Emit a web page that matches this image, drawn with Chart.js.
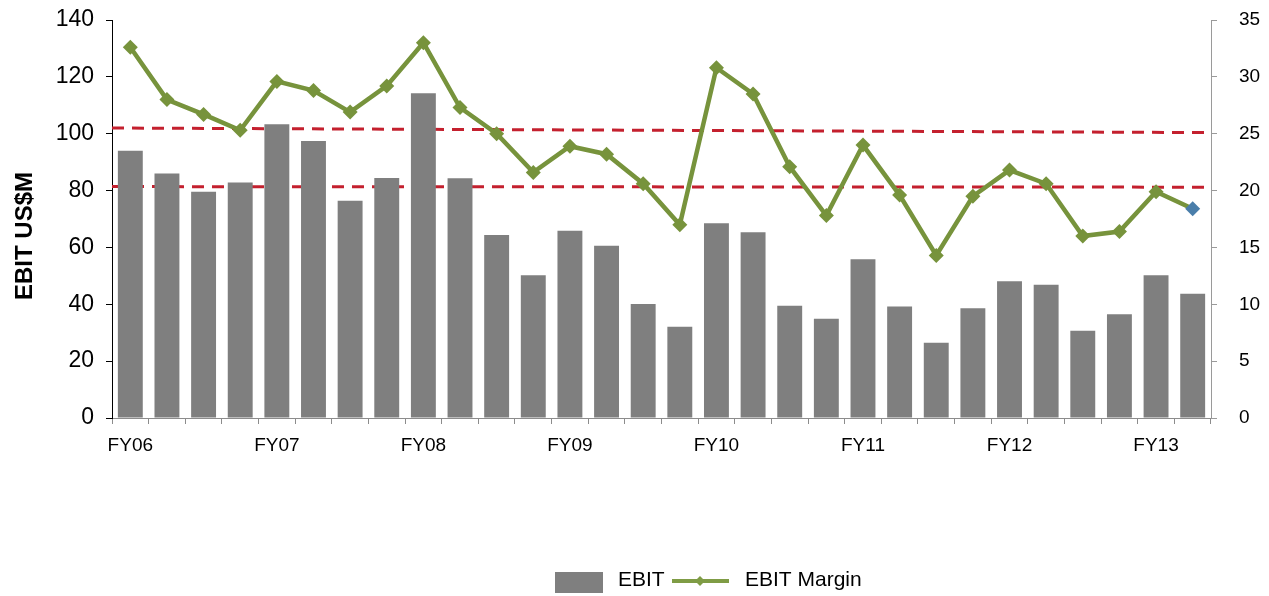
<!DOCTYPE html>
<html>
<head>
<meta charset="utf-8">
<title>EBIT and EBIT Margin</title>
<script src="https://cdn.jsdelivr.net/npm/chart.js@4.4.1/dist/chart.umd.min.js"></script>
<style>
  html, body { margin: 0; padding: 0; background: #ffffff; }
  #wrap { position: relative; width: 1269px; height: 596px; }
</style>
</head>
<body>
<div id="wrap"><canvas id="chart" width="1269" height="596"></canvas></div>
<script>
// Quarterly periods; the fiscal year is labelled on its first quarter
const quarters = [
  'FY06', '', '', '', 'FY07', '', '', '', 'FY08', '', '', '', 'FY09', '', '', '',
  'FY10', '', '', '', 'FY11', '', '', '', 'FY12', '', '', '', 'FY13', ''
];

// EBIT, US$ millions
const ebit = [
  94.0, 86.0, 79.6, 82.8, 103.3, 97.4, 76.4, 84.4, 114.2, 84.3,
  64.4, 50.2, 65.9, 60.6, 40.1, 32.1, 68.5, 65.3, 39.5, 34.9,
  55.8, 39.2, 26.5, 38.6, 48.1, 46.9, 30.7, 36.5, 50.2, 43.7
];

// EBIT margin, percent
const ebitMargin = [
  32.6, 28.0, 26.7, 25.3, 29.6, 28.8, 26.9, 29.2, 33.0, 27.3,
  25.0, 21.6, 23.9, 23.2, 20.6, 17.0, 30.8, 28.5, 22.1, 17.8,
  24.0, 19.6, 14.3, 19.5, 21.8, 20.6, 16.0, 16.4, 19.9, 18.4
];

// Margin reference band (percent), value at the left and right edge of the plot
const bandUpper = [25.5, 25.1];
const bandLower = [20.35, 20.3];

// Axis ticks
const ebitTicks = { min: 0, max: 140, step: 20 };
const marginTicks = { min: 0, max: 35, step: 5 };

const FONT = '"Liberation Sans", Arial, sans-serif';
const BAR_COLOR = '#7f7f7f';
const LINE_COLOR = '#77933c';
const LAST_POINT_COLOR = '#4a7eaa';
const BAND_COLOR = '#c4202e';

// Dashed reference lines, drawn behind the bars
const bandLines = {
  id: 'bandLines',
  beforeDatasetsDraw(chart) {
    const { ctx, chartArea } = chart;
    const y = chart.scales.yMargin;
    ctx.save();
    ctx.strokeStyle = BAND_COLOR;
    ctx.lineWidth = 3;
    ctx.setLineDash([12, 8]);
    [bandUpper, bandLower].forEach(([a, b]) => {
      ctx.beginPath();
      ctx.moveTo(chartArea.left, y.getPixelForValue(a));
      ctx.lineTo(chartArea.right, y.getPixelForValue(b));
      ctx.stroke();
    });
    ctx.restore();
  }
};

// Rotated title of the EBIT axis
const axisTitle = {
  id: 'axisTitle',
  afterDraw(chart) {
    const { ctx } = chart;
    ctx.save();
    ctx.translate(25, 236);
    ctx.rotate(-Math.PI / 2);
    ctx.font = 'bold 24px ' + FONT;
    ctx.fillStyle = '#000';
    ctx.textAlign = 'center';
    ctx.textBaseline = 'middle';
    ctx.fillText('EBIT US$M', 0, 0);
    ctx.restore();
  }
};

// Legend row under the plot
const bottomLegend = {
  id: 'bottomLegend',
  afterDraw(chart) {
    const { ctx } = chart;
    const [barSet, lineSet] = chart.data.datasets;
    ctx.save();
    ctx.font = '21px ' + FONT;
    ctx.textBaseline = 'middle';
    ctx.fillStyle = barSet.backgroundColor;
    ctx.fillRect(555, 572, 48, 21);
    ctx.fillStyle = '#000';
    ctx.fillText(barSet.label, 618, 580);

    ctx.strokeStyle = '#7f9c45';
    ctx.lineWidth = 4;
    ctx.beginPath();
    ctx.moveTo(672, 581);
    ctx.lineTo(729, 581);
    ctx.stroke();
    ctx.fillStyle = '#7f9c45';
    ctx.beginPath();
    ctx.moveTo(700, 576);
    ctx.lineTo(705, 581);
    ctx.lineTo(700, 586);
    ctx.lineTo(695, 581);
    ctx.closePath();
    ctx.fill();

    ctx.fillStyle = '#000';
    ctx.fillText(lineSet.label, 745, 580);
    ctx.restore();
  }
};

// Vertical axes keep a fixed width and do not push the plot down for label overflow
function fixVerticalAxis(width) {
  return (scale) => {
    scale.width = width;
    scale.paddingTop = 0;
    scale.paddingBottom = 0;
  };
}

new Chart(document.getElementById('chart'), {
  data: {
    labels: quarters,
    datasets: [
      {
        type: 'bar',
        label: 'EBIT',
        data: ebit,
        yAxisID: 'yEbit',
        backgroundColor: BAR_COLOR,
        borderWidth: 0,
        barPercentage: 0.68,
        categoryPercentage: 1.0,
        order: 2
      },
      {
        type: 'line',
        label: 'EBIT Margin',
        data: ebitMargin,
        yAxisID: 'yMargin',
        borderColor: LINE_COLOR,
        borderWidth: 4.5,
        tension: 0,
        pointStyle: 'rectRot',
        pointRadius: 7.5,
        pointBorderWidth: 0,
        pointBackgroundColor: (c) => c.dataIndex === ebitMargin.length - 1 ? LAST_POINT_COLOR : LINE_COLOR,
        order: 1
      }
    ]
  },
  options: {
    responsive: false,
    animation: false,
    layout: { padding: { top: 20, bottom: 0, left: 0, right: 0 } },
    plugins: {
      legend: { display: false },
      tooltip: { enabled: false }
    },
    scales: {
      x: {
        offset: true,
        afterFit(scale) { scale.height = 178; },
        border: { display: true, color: '#8c8c8c', width: 1 },
        grid: { display: true, offset: true, drawOnChartArea: false, drawTicks: true, tickLength: 6, color: '#8c8c8c' },
        ticks: {
          autoSkip: false, maxRotation: 0, minRotation: 0, padding: 10,
          color: '#000', font: { family: FONT, size: 19 }
        }
      },
      yEbit: {
        type: 'linear',
        position: 'left',
        min: ebitTicks.min,
        max: ebitTicks.max,
        afterFit: fixVerticalAxis(112),
        border: { display: true, color: '#000', width: 1 },
        grid: { display: true, drawOnChartArea: false, drawTicks: true, tickLength: 6, color: '#000' },
        ticks: {
          stepSize: ebitTicks.step, padding: 12,
          color: '#000', font: { family: FONT, size: 23 }
        }
      },
      yMargin: {
        type: 'linear',
        position: 'right',
        min: marginTicks.min,
        max: marginTicks.max,
        afterFit: fixVerticalAxis(58),
        border: { display: true, color: '#9a9a9a', width: 1 },
        grid: { display: true, drawOnChartArea: false, drawTicks: true, tickLength: 6, color: '#9a9a9a' },
        ticks: {
          stepSize: marginTicks.step, padding: 22,
          color: '#000', font: { family: FONT, size: 19 }
        }
      }
    }
  },
  plugins: [bandLines, axisTitle, bottomLegend]
});
</script>
</body>
</html>
